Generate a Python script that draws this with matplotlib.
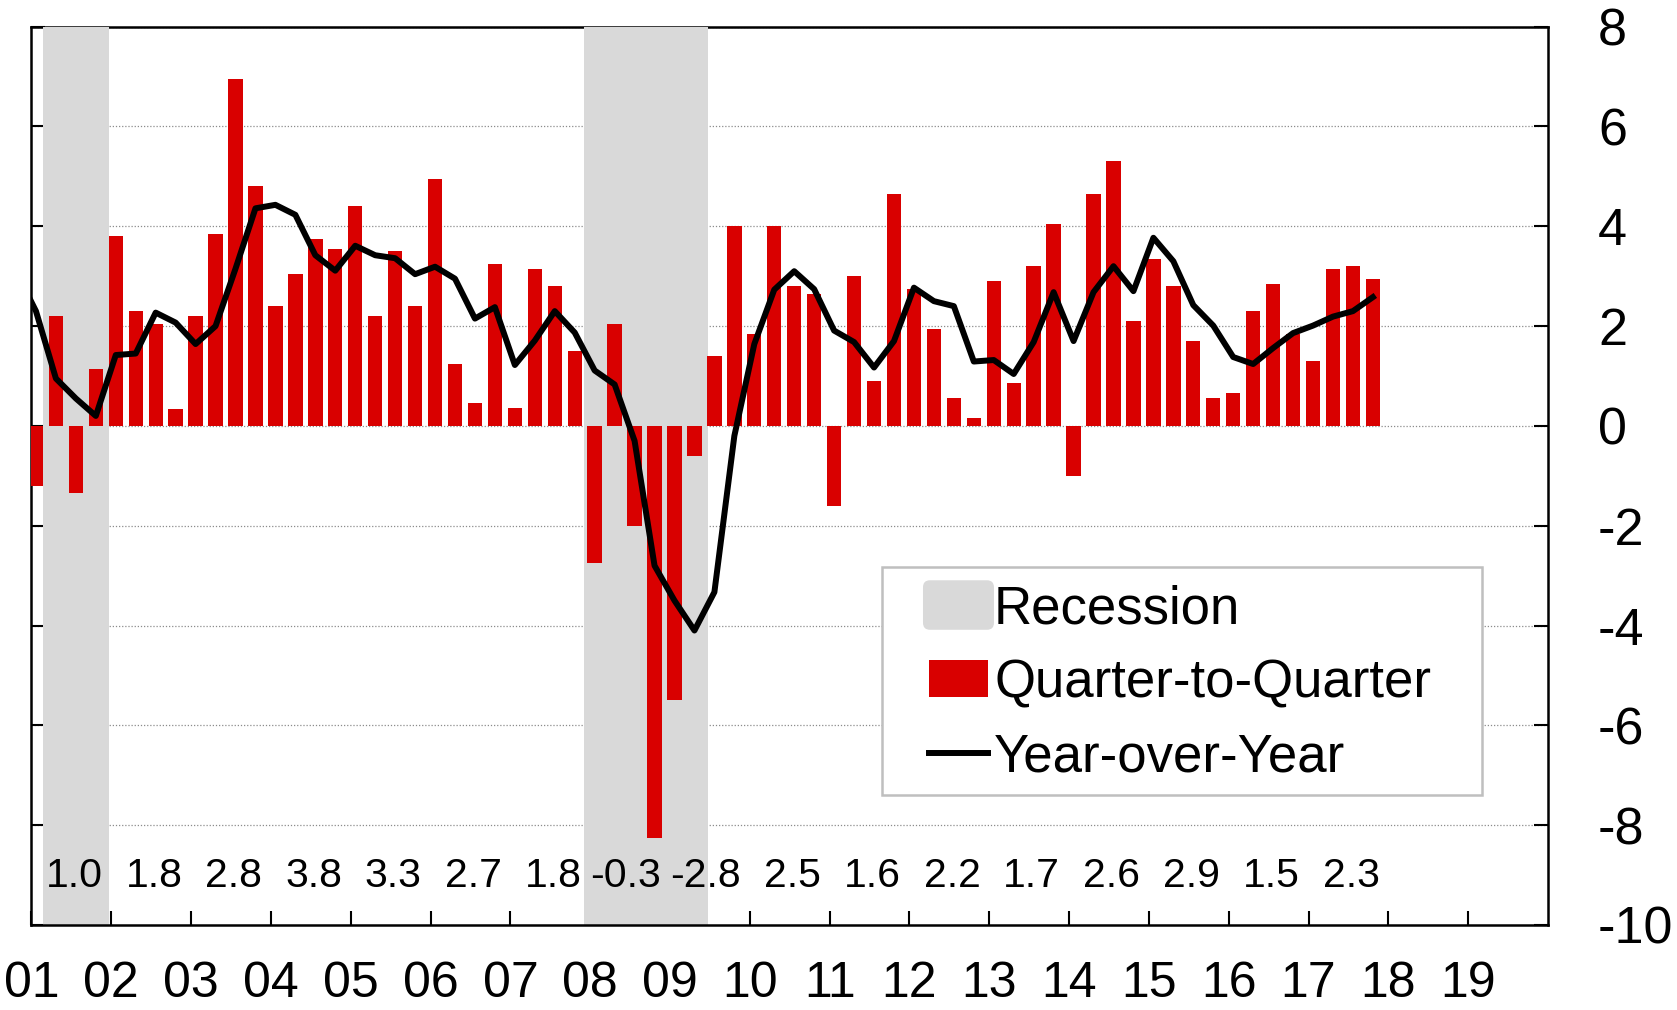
import matplotlib
matplotlib.use('Agg')
import matplotlib.pyplot as plt
from matplotlib.patches import Patch, Rectangle, FancyBboxPatch
from matplotlib.lines import Line2D
from matplotlib.legend_handler import HandlerPatch

plt.rcParams['font.family'] = ['Liberation Sans', 'DejaVu Sans']

# ---------------- data ----------------
years = list(range(2001, 2018))
quarters = [0, 1, 2, 3]

# Quarter-to-quarter growth, 2001Q1 .. 2017Q4
qoq = [-1.2, 2.2, -1.35, 1.15,
       3.8, 2.3, 2.05, 0.33,
       2.2, 3.85, 6.95, 4.8,
       2.4, 3.05, 3.75, 3.55,
       4.4, 2.2, 3.5, 2.4,
       4.95, 1.25, 0.45, 3.25,
       0.35, 3.15, 2.8, 1.5,
       -2.75, 2.05, -2.0, -8.25,
       -5.5, -0.6, 1.4, 4.0,
       1.85, 4.0, 2.8, 2.65,
       -1.6, 3.0, 0.9, 4.65,
       2.75, 1.95, 0.55, 0.15,
       2.9, 0.85, 3.2, 4.05,
       -1.0, 4.65, 5.3, 2.1,
       3.35, 2.8, 1.7, 0.55,
       0.65, 2.3, 2.85, 1.85,
       1.3, 3.15, 3.2, 2.95]

# Year-over-year growth, 2000Q4 .. 2017Q4
yoy_start = 2000.75
yoy = [3.1,
       2.3, 0.95, 0.55, 0.2,
       1.42, 1.45, 2.27, 2.07,
       1.64, 2.0, 3.15, 4.36,
       4.43, 4.23, 3.42, 3.11,
       3.61, 3.42, 3.36, 3.04,
       3.19, 2.95, 2.15, 2.38,
       1.22, 1.71, 2.3, 1.87,
       1.11, 0.83, -0.3, -2.8,
       -3.5, -4.1, -3.33, -0.2,
       1.64, 2.73, 3.1, 2.74,
       1.91, 1.68, 1.17, 1.70,
       2.77, 2.5, 2.4, 1.29,
       1.32, 1.04, 1.68, 2.68,
       1.70, 2.68, 3.2, 2.70,
       3.77, 3.30, 2.42, 2.01,
       1.38, 1.24, 1.56, 1.86,
       2.01, 2.19, 2.30, 2.58]

annual_avg = [1.0, 1.8, 2.8, 3.8, 3.3, 2.7, 1.8, -0.3, -2.8,
              2.5, 1.6, 2.2, 1.7, 2.6, 2.9, 1.5, 2.3]

recessions = [(2001.15, 2001.97), (2007.92, 2009.47)]

xtick_years = list(range(2001, 2020))
xtick_labels = [f"{y % 100:02d}" for y in xtick_years]
yticks = list(range(-10, 9, 2))
ytick_labels = [str(v) for v in yticks]

legend_labels = ['Recession', 'Quarter-to-Quarter', 'Year-over-Year']

# ---------------- style ----------------
RED = '#d90000'
GRAY = '#d9d9d9'
OFF = 0.056
BW = 0.18

fig = plt.figure(figsize=(16.77, 10.10), dpi=100)
ax = fig.add_axes([0.01878, 0.0842, 0.9043, 0.8894])
ax.set_xlim(2001, 2020)
ax.set_ylim(-10, 8)

# gridlines (below shading)
for v in yticks[1:]:
    ax.axhline(v, color='#8c8c8c', lw=0.9, ls=(0, (1, 1.5)), zorder=1)

# recession shading
for a, b in recessions:
    ax.axvspan(a, b, color=GRAY, lw=0, zorder=2)

# bars
bx = [y + q * 0.25 + OFF for y in years for q in quarters]
ax.bar(bx, qoq, width=BW, color=RED, lw=0, zorder=3)

# yoy line
lx = [yoy_start + i * 0.25 + OFF for i in range(len(yoy))]
ax.plot(lx, yoy, color='black', lw=4.3, zorder=4, clip_on=True)

# annual averages
for y, v in zip(years, annual_avg):
    ax.text(y + 0.89, -9.23, f"{v:.1f}", ha='right', va='baseline',
            fontsize=29.5, zorder=5)

# axes styling
for s in ax.spines.values():
    s.set_linewidth(1.8)
    s.set_color('black')
ax.spines['top'].set_zorder(1.5)
ax.spines['bottom'].set_zorder(3.5)

ax.set_xticks(xtick_years)
ax.set_xticklabels(xtick_labels)
ax.set_yticks(yticks)
ax.set_yticklabels(ytick_labels)
ax.tick_params(axis='y', left=True, right=True, labelleft=False, labelright=True,
               direction='in', length=10, width=1.5, pad=36, labelsize=37.5)
ax.tick_params(axis='x', bottom=True, top=False, direction='in', length=10,
               width=1.5, pad=26, labelsize=36)

# legend frame
ax.add_patch(Rectangle((0.5608, 0.1447), 0.3957, 0.2538, transform=ax.transAxes,
                       facecolor='white', edgecolor='#bfbfbf', lw=1.8, zorder=4.5))


def rounded(legend, orig_handle, xdescent, ydescent, width, height, fontsize):
    ex, ey = 0.095 * width, 0.17 * height
    return FancyBboxPatch((-xdescent - ex, -ydescent - ey), width + 2 * ex,
                          height + 2 * ey, boxstyle='round,pad=0,rounding_size=5')


handles = [Patch(facecolor=GRAY, edgecolor='none'),
           Patch(facecolor=RED, edgecolor='none'),
           Line2D([], [], color='black', lw=4.3)]
leg = ax.legend(handles, legend_labels, loc='upper left',
                bbox_to_anchor=(0.5916, 0.379), borderaxespad=0, borderpad=0,
                frameon=False, fontsize=38, handlelength=1.13,
                handletextpad=0.11, labelspacing=0.45,
                handler_map={handles[0]: HandlerPatch(patch_func=rounded)})
leg.set_zorder(6)

fig.savefig('out.png', dpi=100)
